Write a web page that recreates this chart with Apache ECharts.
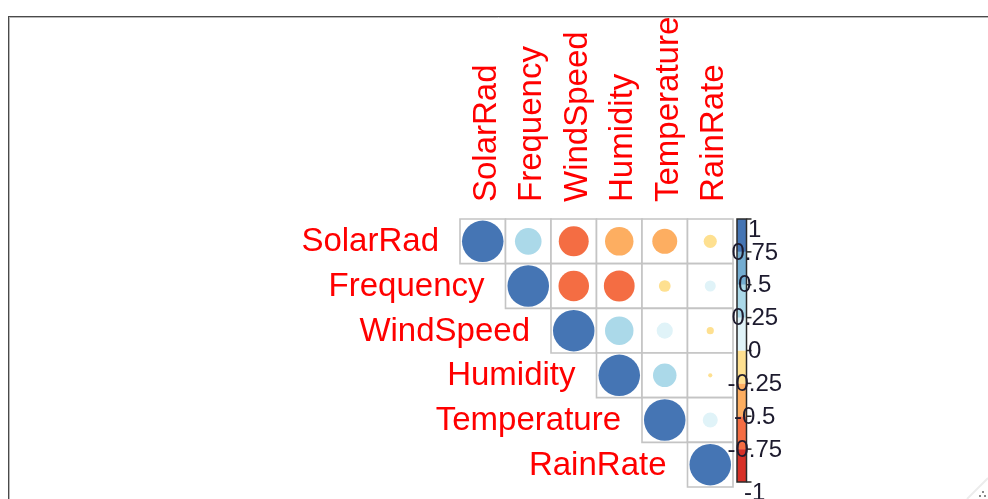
<!DOCTYPE html>
<html>
<head>
<meta charset="utf-8">
<script src="https://cdn.jsdelivr.net/npm/echarts@6/dist/echarts.min.js"></script>
<style>
html,body{margin:0;padding:0;background:#fff;}
#chart{width:988px;height:499px;}
</style>
</head>
<body>
<div id="chart"></div>
<script>
// ---- data ----
const variables = ['SolarRad', 'Frequency', 'WindSpeed', 'Humidity', 'Temperature', 'RainRate'];
// upper-triangle correlations, row by row (starting at the diagonal)
const rowSolarRad    = [1, 0.41, -0.52, -0.47, -0.36, -0.10];
const rowFrequency   = [1, -0.54, -0.55, -0.08, 0.07];
const rowWindSpeed   = [1, 0.47, 0.15, -0.03];
const rowHumidity    = [1, 0.32, -0.01];
const rowTemperature = [1, 0.13];
const rowRainRate    = [1];
const colorBreaks = [-1, -0.75, -0.5, -0.25, 0, 0.25, 0.5, 0.75, 1];
const palette = ['#D73027', '#F46D43', '#FDAE61', '#FEE090', '#E0F3F8', '#ABD9E9', '#74ADD1', '#4575B4'];
const legendTicks = [1, 0.75, 0.5, 0.25, 0, -0.25, -0.5, -0.75, -1];
const legendLabels = ['1', '0.75', '0.5', '0.25', '0', '-0.25', '-0.5', '-0.75', '-1'];

// ---- build ----
const rows = [rowSolarRad, rowFrequency, rowWindSpeed, rowHumidity, rowTemperature, rowRainRate];
const cells = [];
rows.forEach((row, i) => {
  row.forEach((v, k) => { cells.push([i + k, i, v]); });
});
function colorOf(v) {
  let idx = Math.floor((v + 1) / 0.25);
  if (idx > 7) idx = 7;
  if (idx < 0) idx = 0;
  return palette[idx];
}
const segs = [];
for (let i = 0; i < palette.length; i++) segs.push([0, colorBreaks[i], colorBreaks[i + 1], i]);

const FONT = "'Liberation Sans', Arial, sans-serif";
const chart = echarts.init(document.getElementById('chart'), null, {renderer: 'canvas'});
const option = {
  backgroundColor: '#ffffff',
  animation: false,
  grid: [
    {left: 460, top: 219, width: 273, height: 268},
    {left: 737, top: 219, width: 9.5, height: 263}
  ],
  xAxis: [
    {type: 'category', gridIndex: 0, position: 'top', data: variables,
     axisLine: {show: false}, axisTick: {show: false}, splitLine: {show: false}, axisLabel: {show: false}},
    {type: 'category', gridIndex: 1, data: ['bar'], show: false}
  ],
  yAxis: [
    {type: 'category', gridIndex: 0, inverse: true, data: variables, show: false},
    {type: 'value', gridIndex: 1, min: -1, max: 1, show: false}
  ],
  series: [
    { // cells
      type: 'custom', xAxisIndex: 0, yAxisIndex: 0, clip: false, z: 2,
      data: cells,
      renderItem: function (params, api) {
        const c = api.coord([api.value(0), api.value(1)]);
        const s = api.size([1, 1]);
        return {type: 'rect', shape: {x: c[0] - s[0] / 2, y: c[1] - s[1] / 2, width: s[0], height: s[1]},
                style: {fill: '#ffffff', stroke: '#c4c4c4', lineWidth: 1.6}};
      }
    },
    { // circles
      type: 'custom', xAxisIndex: 0, yAxisIndex: 0, clip: false, z: 3,
      data: cells,
      renderItem: function (params, api) {
        const c = api.coord([api.value(0), api.value(1)]);
        const s = api.size([1, 1]);
        const v = api.value(2);
        const r = Math.sqrt(Math.abs(v)) * Math.min(s[0], s[1]) / 2 * 0.93;
        return {type: 'circle', shape: {cx: c[0], cy: c[1], r: r}, style: {fill: colorOf(v)}};
      }
    },
    { // row labels beside diagonal
      type: 'custom', xAxisIndex: 0, yAxisIndex: 0, clip: false, z: 4,
      data: variables.map((name, i) => [i, i]),
      renderItem: function (params, api) {
        const c = api.coord([api.value(0), api.value(1)]);
        const s = api.size([1, 1]);
        return {type: 'text', x: c[0] - s[0] / 2 - 21, y: c[1] + 1,
                style: {text: variables[params.dataIndex], fill: '#FF0000', font: '33px ' + FONT,
                        textAlign: 'right', textVerticalAlign: 'middle'}};
      }
    },
    { // column labels above the matrix
      type: 'custom', xAxisIndex: 0, yAxisIndex: 0, clip: false, z: 4,
      data: variables.map((name, i) => [i, 0]),
      renderItem: function (params, api) {
        const c = api.coord([api.value(0), api.value(1)]);
        const s = api.size([1, 1]);
        return {type: 'text', x: c[0] + 4, y: c[1] - s[1] / 2 - 17, rotation: Math.PI / 2,
                style: {text: variables[params.dataIndex], fill: '#FF0000', font: '33px ' + FONT,
                        textAlign: 'left', textVerticalAlign: 'middle'}};
      }
    },
    { // colour bar segments
      type: 'custom', xAxisIndex: 1, yAxisIndex: 1, clip: false, z: 2,
      data: segs,
      renderItem: function (params, api) {
        const lo = api.coord([0, api.value(1)]);
        const hi = api.coord([0, api.value(2)]);
        const w = api.size([1, 0])[0];
        return {type: 'rect', shape: {x: lo[0] - w / 2, y: hi[1], width: w, height: lo[1] - hi[1]},
                style: {fill: palette[api.value(3)]}};
      }
    },
    { // colour bar border + ticks
      type: 'custom', xAxisIndex: 1, yAxisIndex: 1, clip: false, z: 3,
      data: [[0, -1, 1]],
      renderItem: function (params, api) {
        const lo = api.coord([0, api.value(1)]);
        const hi = api.coord([0, api.value(2)]);
        const w = api.size([1, 0])[0];
        const children = [{type: 'rect', shape: {x: lo[0] - w / 2, y: hi[1], width: w, height: lo[1] - hi[1]},
                           style: {fill: 'none', stroke: '#2a2a2a', lineWidth: 1.5}}];
        legendTicks.forEach(t => {
          const p = api.coord([0, t]);
          children.push({type: 'line', shape: {x1: p[0] + w / 2, y1: p[1], x2: p[0] + w / 2 + 5, y2: p[1]},
                         style: {stroke: '#2a2a2a', lineWidth: 1.5}});
        });
        return {type: 'group', children: children};
      }
    },
    { // colour bar labels
      type: 'custom', xAxisIndex: 1, yAxisIndex: 1, clip: false, z: 5,
      data: legendTicks.map((t, i) => [0, t, i]),
      renderItem: function (params, api) {
        const t = api.value(1);
        const p = api.coord([0, t]);
        const edge = (t === 1 || t === -1);
        return {type: 'text', x: p[0] + 13, y: edge ? p[1] - 1 : p[1] + 1,
                style: {text: legendLabels[api.value(2)], fill: '#1d1b2e', font: '24px ' + FONT,
                        textAlign: 'center', textVerticalAlign: edge ? 'top' : 'middle'}};
      }
    }
  ],
  graphic: [
    {type: 'rect', shape: {x: 0, y: 0, width: 988, height: 16}, style: {fill: '#ffffff'}, z: 100},
    {type: 'rect', shape: {x: 0, y: 0, width: 8, height: 499}, style: {fill: '#ffffff'}, z: 100},
    {type: 'line', shape: {x1: 8, y1: 16.5, x2: 988, y2: 16.5}, style: {stroke: '#4a4a4a', lineWidth: 1}, z: 101},
    {type: 'line', shape: {x1: 9, y1: 17.5, x2: 988, y2: 17.5}, style: {stroke: '#b8b8b8', lineWidth: 1}, z: 101},
    {type: 'line', shape: {x1: 8.5, y1: 16, x2: 8.5, y2: 499}, style: {stroke: '#4a4a4a', lineWidth: 1}, z: 101},
    {type: 'line', shape: {x1: 9.5, y1: 17, x2: 9.5, y2: 499}, style: {stroke: '#b8b8b8', lineWidth: 1}, z: 101},
    {type: 'line', shape: {x1: 988, y1: 478, x2: 967, y2: 499}, style: {stroke: '#ececec', lineWidth: 2}, z: 101},
    {type: 'rect', shape: {x: 982, y: 491, width: 2, height: 2}, style: {fill: '#8a8a8a'}, z: 101},
    {type: 'rect', shape: {x: 979, y: 495, width: 2, height: 2}, style: {fill: '#8a8a8a'}, z: 101},
    {type: 'rect', shape: {x: 984, y: 495, width: 2, height: 2}, style: {fill: '#8a8a8a'}, z: 101}
  ]
};
chart.setOption(option);
</script>
</body>
</html>
